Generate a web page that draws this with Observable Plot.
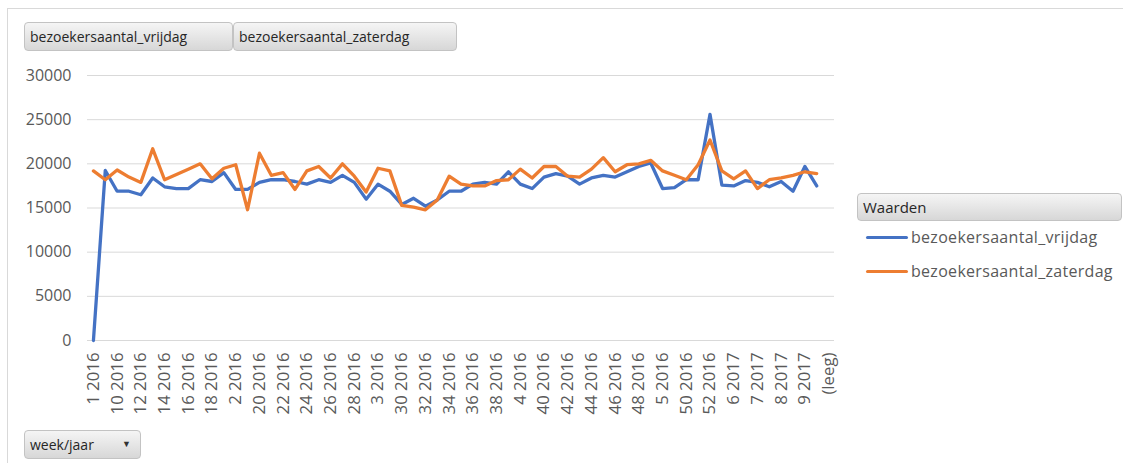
<!DOCTYPE html>
<html>
<head>
<meta charset="utf-8">
<script src="https://cdn.jsdelivr.net/npm/d3@7"></script>
<script src="https://cdn.jsdelivr.net/npm/@observablehq/plot@0.6"></script>
<style>
  html, body { margin: 0; padding: 0; background: #fff; overflow: hidden; }
  #wrap { position: relative; width: 1123px; height: 463px; overflow: hidden; font-family: "Open Sans", "Noto Sans", sans-serif; }
  #frame { position: absolute; left: 7px; top: 8px; width: 1130px; height: 470px; border: 1px solid #d9d9d9; box-sizing: border-box; }
  #chart { position: absolute; left: 0; top: 0; }
  .btn { position: absolute; box-sizing: border-box; background: linear-gradient(#f5f5f5, #d7d7d7); border: 1px solid #c3c3c3; border-radius: 4px; color: #262626; font-size: 14px; padding-left: 5px; display: flex; align-items: center; white-space: nowrap; }
  .leg { position: absolute; left: 866px; display: flex; align-items: center; color: #595959; font-size: 16px; letter-spacing: 0.3px; white-space: nowrap; }
  .leg .sw { width: 42px; height: 3px; border-radius: 2px; margin-right: 3px; }
</style>
</head>
<body>
<div id="wrap">
  <div id="frame"></div>
  <div id="chart"></div>
</div>
<script>
const weeks = ["1 2016","1 2017","10 2016","11 2016","12 2016","13 2016","14 2016","15 2016","16 2016","17 2016","18 2016","19 2016","2 2016","2 2017","20 2016","21 2016","22 2016","23 2016","24 2016","25 2016","26 2016","27 2016","28 2016","29 2016","3 2016","3 2017","30 2016","31 2016","32 2016","33 2016","34 2016","35 2016","36 2016","37 2016","38 2016","39 2016","4 2016","4 2017","40 2016","41 2016","42 2016","43 2016","44 2016","45 2016","46 2016","47 2016","48 2016","49 2016","5 2016","5 2017","50 2016","51 2016","52 2016","6 2016","6 2017","7 2016","7 2017","8 2016","8 2017","9 2016","9 2017","10 2017","(leeg)"];

const vrijdag = [0,19250,16900,16900,16500,18400,17400,17200,17200,18200,
  18000,19000,17100,17100,17900,18200,18200,18000,17700,18200,
  17900,18700,17900,16000,17700,16900,15400,16100,15200,15900,
  16900,16900,17700,17900,17700,19100,17700,17200,18500,18900,
  18600,17700,18400,18700,18500,19100,19700,20100,17200,17300,
  18200,18200,25600,17600,17500,18100,17900,17400,18000,16900,
  19700,17500];

const zaterdag = [19200,18200,19300,18500,17900,21700,18200,18800,19400,20000,
  18300,19500,19900,14800,21200,18700,19000,17100,19200,19700,
  18400,20000,18600,16800,19500,19200,15300,15100,14800,15900,
  18600,17700,17500,17500,18100,18200,19400,18400,19700,19700,
  18600,18500,19400,20700,19100,19900,20000,20400,19200,18700,
  18200,19900,22700,19200,18300,19200,17200,18200,18400,18700,
  19100,18900];

const seriesNames = ["bezoekersaantal_vrijdag", "bezoekersaantal_zaterdag"];
const seriesColors = ["#4472C4", "#ED7D31"];
const yTicks = [0, 5000, 10000, 15000, 20000, 25000, 30000];
const xTickLabels = weeks.filter((_, i) => i % 2 === 0);
const pivotButtons = ["bezoekersaantal_vrijdag", "bezoekersaantal_zaterdag"];
const legendTitle = "Waarden";
const axisButton = "week/jaar";

const rows = [];
vrijdag.forEach((v, i) => rows.push({week: weeks[i], value: v, series: seriesNames[0]}));
zaterdag.forEach((v, i) => rows.push({week: weeks[i], value: v, series: seriesNames[1]}));

const chart = Plot.plot({
  width: 1123,
  height: 463,
  marginLeft: 87,
  marginRight: 289,
  marginTop: 75,
  marginBottom: 123,
  style: {fontFamily: "'Open Sans', 'Noto Sans', sans-serif", background: "transparent"},
  x: {type: "point", domain: weeks, padding: 0.5, label: null},
  y: {domain: [0, 30000], label: null},
  color: {domain: seriesNames, range: seriesColors},
  marks: [
    Plot.gridY(yTicks, {stroke: "#d9d9d9", strokeOpacity: 1, strokeWidth: 1}),
    Plot.axisY(yTicks, {tickSize: 0, tickPadding: 16, fontSize: 16, fill: "#595959", tickFormat: d3.format("d"), label: null}),
    Plot.axisX(xTickLabels, {tickSize: 0, tickRotate: -90, tickPadding: 12, fontSize: 16.8, fill: "#595959", label: null}),
    Plot.line(rows, {x: "week", y: "value", z: "series", stroke: "series", strokeWidth: 3.3, strokeLinejoin: "round", strokeLinecap: "round"})
  ]
});
document.getElementById("chart").appendChild(chart);

const wrap = document.getElementById("wrap");
function addBtn(text, left, top, width, height, extra) {
  const b = document.createElement("div");
  b.className = "btn";
  b.style.left = left + "px"; b.style.top = top + "px";
  b.style.width = width + "px"; b.style.height = height + "px";
  b.textContent = text;
  if (extra) extra(b);
  wrap.appendChild(b);
  return b;
}
addBtn(pivotButtons[0], 24, 22, 209, 29);
addBtn(pivotButtons[1], 233, 22, 224, 29);
addBtn(legendTitle, 857, 193, 265, 28, b => { b.style.fontSize = "15px"; });
addBtn(axisButton, 24, 430, 117, 29, b => {
  const a = document.createElement("span");
  a.textContent = "▼";
  a.style.cssText = "position:absolute;left:97px;top:6px;font-size:9px;color:#333;";
  b.appendChild(a);
});

seriesNames.forEach((name, i) => {
  const d = document.createElement("div");
  d.className = "leg";
  d.style.top = (225 + i * 34) + "px";
  d.style.height = "24px";
  const sw = document.createElement("span");
  sw.className = "sw";
  sw.style.background = seriesColors[i];
  const t = document.createElement("span");
  t.textContent = name;
  d.appendChild(sw); d.appendChild(t);
  wrap.appendChild(d);
});
</script>
</body>
</html>
